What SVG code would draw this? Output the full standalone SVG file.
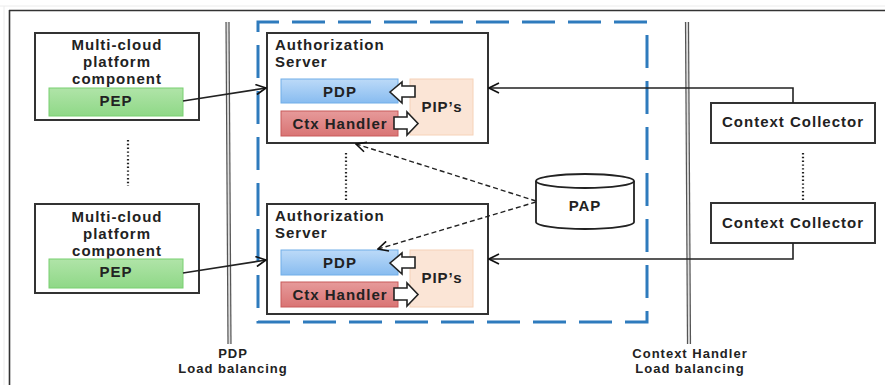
<svg xmlns="http://www.w3.org/2000/svg" width="885" height="385" viewBox="0 0 885 385">
<defs>
<linearGradient id="gBlue" x1="0" y1="0" x2="0" y2="1"><stop offset="0" stop-color="#bcdaf8"/><stop offset="1" stop-color="#88bcf0"/></linearGradient>
<linearGradient id="gRed" x1="0" y1="0" x2="0" y2="1"><stop offset="0" stop-color="#e69a9a"/><stop offset="1" stop-color="#d97474"/></linearGradient>
<linearGradient id="gGreen" x1="0" y1="0" x2="0" y2="1"><stop offset="0" stop-color="#b0e4a8"/><stop offset="1" stop-color="#8fd887"/></linearGradient>
<marker id="open" viewBox="0 0 12 12" refX="11" refY="6" markerWidth="12" markerHeight="12" markerUnits="userSpaceOnUse" orient="auto">
<path d="M1,1 L11,6 L1,11" fill="none" stroke="#111" stroke-width="1.6"/>
</marker>
</defs>
<style>
text{font-family:"Liberation Sans",Arial,sans-serif;font-weight:bold;fill:#222;letter-spacing:1px}
.t15{font-size:15px}
.t13{font-size:13px}
.mid{text-anchor:middle}
.box{fill:#fff;stroke:#333;stroke-width:2}
.pep{fill:url(#gGreen);stroke:#78d070;stroke-width:1}
.pdp{fill:url(#gBlue);stroke:#70aee8;stroke-width:1}
.ctx{fill:url(#gRed);stroke:#c85a5a;stroke-width:1}
.pip{fill:#fbe5d6;stroke:#f6d2b8;stroke-width:1}
.blk{fill:#fff;stroke:#222;stroke-width:1.6;stroke-linejoin:miter}
.dots{stroke:#222;stroke-width:2.2;stroke-dasharray:1.4 2.4}
.conn{fill:none;stroke:#222;stroke-width:1.6}
.dash{fill:none;stroke:#222;stroke-width:1.4;stroke-dasharray:5 3}
.lb{stroke:#555;stroke-width:1.2}
</style>

<!-- frame -->
<g id="frame">
<line x1="0" y1="6" x2="885" y2="6" stroke="#ececec" stroke-width="1"/>
<line x1="4" y1="6" x2="4" y2="385" stroke="#ececec" stroke-width="1"/>
<line x1="9" y1="10.5" x2="885" y2="10.5" stroke="#333" stroke-width="1.6"/>
<line x1="9.5" y1="10" x2="9.5" y2="385" stroke="#333" stroke-width="1.6"/>
</g>

<!-- load balancer lines -->
<g id="pdp-lb">
<polygon points="226,22 229,22 231,344 228,344" fill="#ddd"/>
<line class="lb" x1="226" y1="22" x2="228" y2="344"/>
<line class="lb" x1="229" y1="22" x2="231" y2="344"/>
<text class="t13 mid" x="233" y="358">PDP</text>
<text class="t13 mid" x="233" y="373">Load balancing</text>
</g>
<g id="ctx-lb">
<polygon points="685.5,22 688.5,22 690.5,344 687.5,344" fill="#ddd"/>
<line class="lb" x1="685.5" y1="22" x2="687.5" y2="344"/>
<line class="lb" x1="688.5" y1="22" x2="690.5" y2="344"/>
<text class="t13 mid" x="690" y="358">Context Handler</text>
<text class="t13 mid" x="690" y="373">Load balancing</text>
</g>

<!-- dashed blue container -->
<g id="cluster">
<rect x="258" y="22" width="389" height="300" fill="none" stroke="#2e7bbd" stroke-width="3" stroke-dasharray="33 13" stroke-dashoffset="12"/>
</g>

<!-- multi-cloud components -->
<g id="mc1">
<rect class="box" x="35" y="33" width="164" height="87"/>
<text class="t15 mid" x="117" y="50">Multi-cloud</text>
<text class="t15 mid" x="117" y="67">platform</text>
<text class="t15 mid" x="117" y="84">component</text>
<rect class="pep" x="49" y="88" width="134" height="28"/>
<text class="t15 mid" x="116" y="106">PEP</text>
</g>
<g id="mc2">
<rect class="box" x="35" y="204" width="164" height="89"/>
<text class="t15 mid" x="117" y="222">Multi-cloud</text>
<text class="t15 mid" x="117" y="239">platform</text>
<text class="t15 mid" x="117" y="256">component</text>
<rect class="pep" x="49" y="259" width="134" height="29"/>
<text class="t15 mid" x="116" y="277">PEP</text>
</g>

<!-- authorization servers -->
<g id="as1">
<rect class="box" x="267" y="33" width="221" height="110"/>
<text class="t15" x="275" y="50">Authorization</text>
<text class="t15" x="275" y="67">Server</text>
<rect class="pip" x="410" y="79" width="63" height="56"/>
<text class="t15 mid" x="442" y="112">PIP’s</text>
<rect class="pdp" x="281" y="79" width="117" height="24"/>
<text class="t15 mid" x="340" y="97">PDP</text>
<rect class="ctx" x="281" y="111" width="117" height="25"/>
<text class="t15 mid" x="340" y="129">Ctx Handler</text>
<polygon class="blk" points="390,92 402,82 402,86 415,86 415,97 402,97 402,103"/>
<polygon class="blk" points="394,117 407,117 407,112 418,123.5 407,135 407,129 394,129"/>
</g>
<g id="as2">
<rect class="box" x="267" y="204" width="221" height="110"/>
<text class="t15" x="275" y="221">Authorization</text>
<text class="t15" x="275" y="238">Server</text>
<rect class="pip" x="410" y="250" width="63" height="57"/>
<text class="t15 mid" x="442" y="283">PIP’s</text>
<rect class="pdp" x="281" y="250" width="117" height="25"/>
<text class="t15 mid" x="340" y="268">PDP</text>
<rect class="ctx" x="281" y="282" width="117" height="25"/>
<text class="t15 mid" x="340" y="300">Ctx Handler</text>
<polygon class="blk" points="390,263 402,253 402,257 415,257 415,268 402,268 402,274"/>
<polygon class="blk" points="394,288 407,288 407,283 418,294.5 407,306 407,300 394,300"/>
</g>

<!-- PAP -->
<g id="pap">
<path d="M536,181 L536,222 A49,7 0 0 0 634,222 L634,181" fill="#fff" stroke="#222" stroke-width="1.8"/>
<ellipse cx="585" cy="181" rx="49" ry="7" fill="#fff" stroke="#222" stroke-width="1.8"/>
<text class="t15 mid" x="585" y="211">PAP</text>
</g>

<!-- context collectors -->
<g id="cc1">
<rect class="box" x="711" y="103" width="164" height="40"/>
<text class="t15 mid" x="793" y="127">Context Collector</text>
</g>
<g id="cc2">
<rect class="box" x="711" y="203" width="164" height="40"/>
<text class="t15 mid" x="793" y="228">Context Collector</text>
</g>

<!-- connectors -->
<g id="connectors">
<line class="conn" x1="183" y1="101" x2="266" y2="88" marker-end="url(#open)"/>
<line class="conn" x1="183" y1="273" x2="266" y2="260" marker-end="url(#open)"/>
<polyline class="conn" points="793,103 793,88 489,88" marker-end="url(#open)"/>
<polyline class="conn" points="793,243 793,259 489,259" marker-end="url(#open)"/>
<line class="dash" x1="536" y1="201" x2="356" y2="144" marker-end="url(#open)"/>
<line class="dash" x1="536" y1="202" x2="378" y2="249" marker-end="url(#open)"/>
<line class="dots" x1="128" y1="140" x2="128" y2="186"/>
<line class="dots" x1="346" y1="153" x2="346" y2="200"/>
<line class="dots" x1="803" y1="153" x2="803" y2="200"/>
</g>
</svg>
